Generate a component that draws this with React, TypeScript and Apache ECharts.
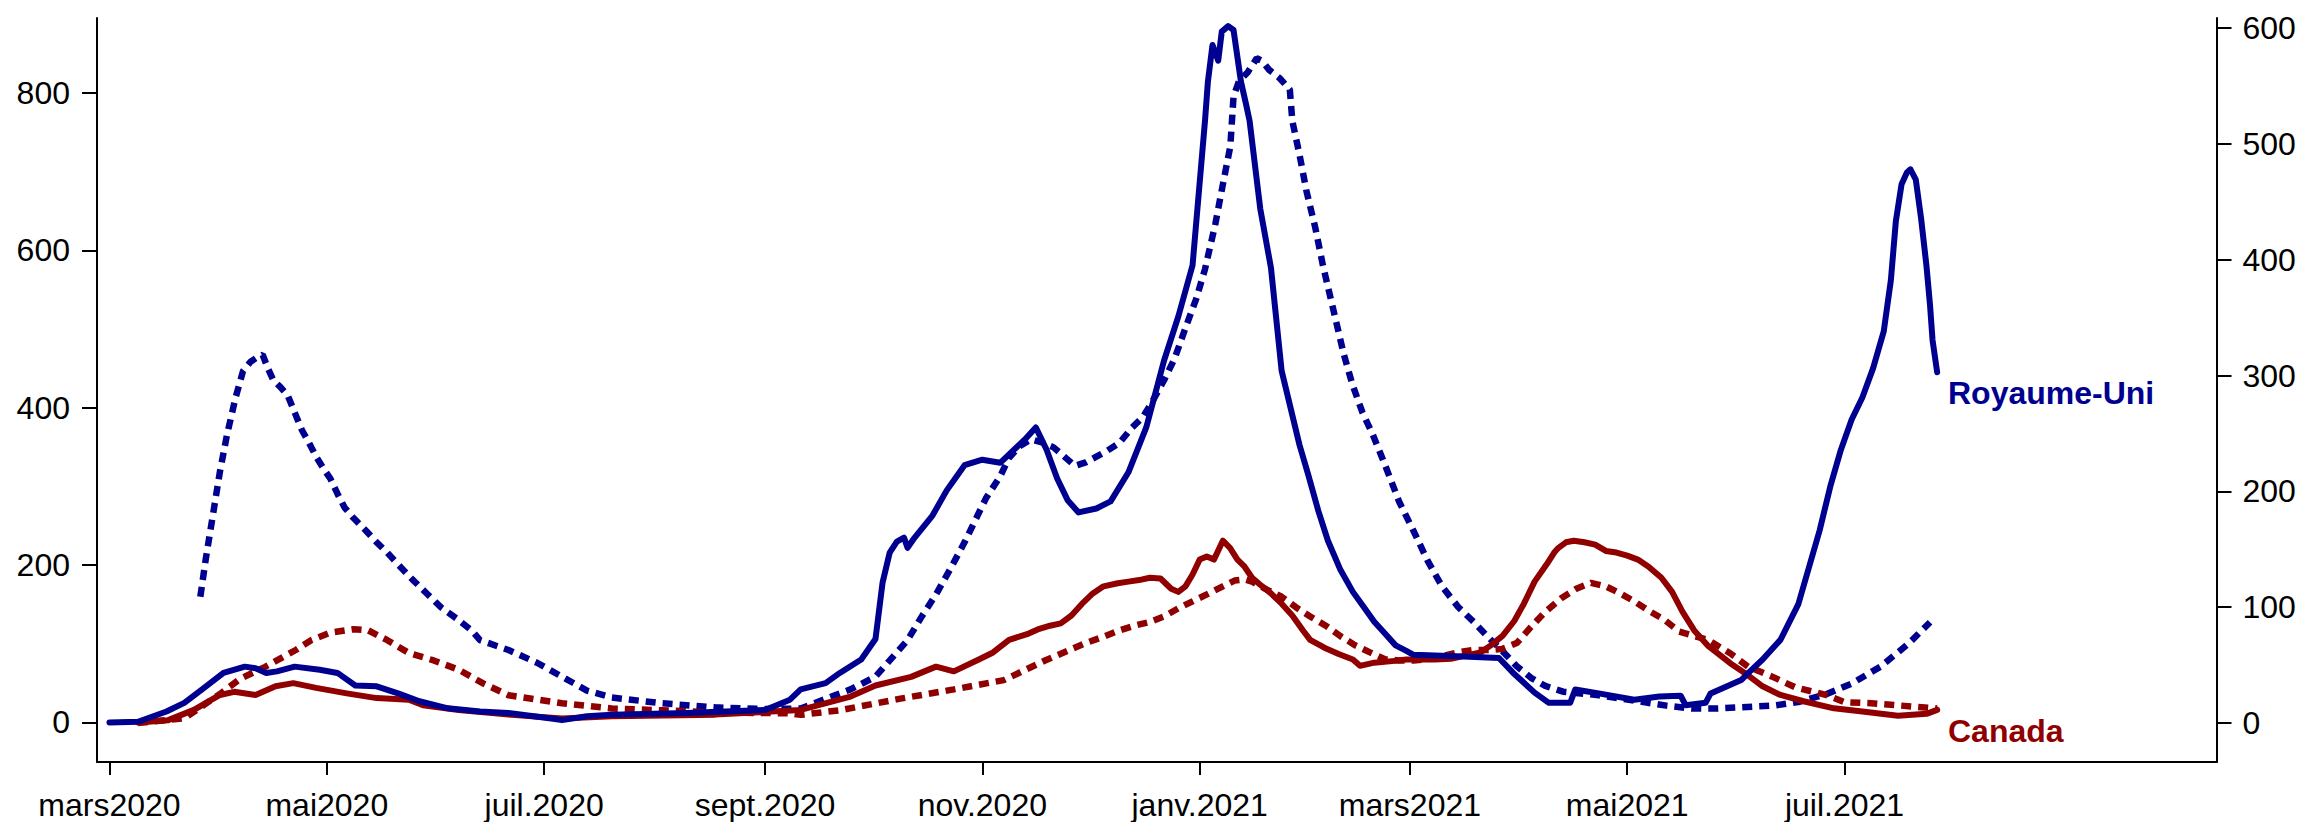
import { useEffect, useRef } from 'react';
import * as echarts from 'echarts';

// x values are days counted from 1 March 2020
const START = '2020-03-01';

const tickDates = [
  '2020-03-01', '2020-05-01', '2020-07-01', '2020-09-01', '2020-11-01',
  '2021-01-01', '2021-03-01', '2021-05-01', '2021-07-01',
];
const tickLabels = [
  'mars2020', 'mai2020', 'juil.2020', 'sept.2020', 'nov.2020',
  'janv.2021', 'mars2021', 'mai2021', 'juil.2021',
];
const leftTicks = [0, 200, 400, 600, 800];
const rightTicks = [0, 100, 200, 300, 400, 500, 600];

// Royaume-Uni, solid line, left scale
const ukCases: [number, number][] = [
  [0, 0], [8, 1], [16, 14], [21, 25], [26, 42], [32, 63], [38, 71], [41, 69], [44, 63], [47, 65],
  [52, 71], [59, 67], [64, 63], [69, 47], [75, 46], [81, 37], [87, 27], [95, 18], [104, 14], [112, 12],
  [124, 5], [127, 3], [134, 8], [141, 10], [162, 12], [184, 16], [191, 29], [194, 42], [201, 50], [205, 63],
  [211, 80], [215, 106], [217, 178], [219, 216], [221, 230], [223, 235], [224, 222], [226, 235], [231, 263], [235, 295],
  [240, 327], [245, 334], [250, 330], [257, 360], [260, 375], [263, 347], [266, 310], [269, 282], [272, 267], [277, 272],
  [281, 281], [286, 318], [291, 375], [296, 460], [300, 516], [304, 581], [307.5, 765], [308.3, 814], [309.6, 861], [311.2, 841],
  [312.2, 878], [314, 885], [315.5, 880], [317.6, 814], [319, 786], [320, 765], [323, 653], [326, 578], [329, 447], [331.5, 400],
  [334, 353], [336.4, 316], [339.3, 269], [342, 231], [345.5, 194], [349, 166], [352, 147], [355, 128], [358, 113], [361, 98],
  [364, 91], [366, 86], [380, 84], [390, 82], [394, 63], [400, 38], [404, 25], [410, 25], [411.4, 42], [418, 37],
  [428, 29], [435, 33], [441, 34], [442.4, 22], [448, 25], [449.4, 37], [458, 54], [460, 63], [464, 80], [469, 105],
  [474, 150], [477, 197], [480, 244], [483, 300], [486, 347], [489, 385], [492, 413], [495, 450], [498, 497], [500, 562],
  [501.4, 637], [503, 684], [504.5, 699], [505.5, 703], [507, 690], [508.5, 640], [510, 580], [511, 530], [511.7, 486], [513, 445],
];

// Royaume-Uni, dotted line, right scale
const ukHosp: [number, number][] = [
  [25.5, 109], [27, 141], [29, 179], [31, 217], [33, 249], [35.4, 281], [37.5, 304], [39.6, 312], [41.6, 316], [43, 318],
  [44.5, 306], [46, 296], [48, 290], [50, 283], [52, 268], [54, 253], [56, 242], [58, 230], [60, 220], [62, 211],
  [64, 198], [66, 186], [68.5, 177], [72, 166], [75, 156], [78, 147], [81, 137], [85, 124], [89, 112], [93, 100],
  [97.5, 90], [101.6, 80], [104, 71.5], [112, 63], [120, 52], [127, 40], [134, 28], [141, 22], [155, 17], [170, 13.5],
  [184, 12], [194, 12.5], [208, 29], [215, 40], [224, 71.5], [228, 92], [232, 111], [236, 133], [240, 156], [243, 175],
  [246, 194], [250, 213], [252.5, 229], [255.4, 239], [258.7, 245], [262, 242], [265, 238], [268, 230], [271, 222], [274, 225],
  [277, 230], [280, 235], [283.5, 242], [287, 255], [290, 264], [292.6, 277], [296, 296], [299, 315], [302, 341], [305, 366],
  [307.5, 392], [310.4, 431], [312.5, 465], [314.6, 498], [315.5, 541], [317, 554], [319.5, 562], [322, 574], [323.4, 572], [325.5, 564],
  [328.4, 557], [331.3, 547], [332, 520], [334, 491], [336, 459], [338.5, 427], [340.6, 395], [343.5, 357], [346.4, 319], [348.8, 293],
  [351.7, 268], [354.6, 249], [358, 223], [362, 191], [366, 166], [370, 140], [374, 118], [378.6, 100], [383, 87], [387, 74],
  [391, 62], [395, 49], [399, 39], [403, 32], [408, 27], [418, 24], [437, 15], [444, 12.5], [451, 12.5], [467, 15],
  [474, 18], [482, 25], [489, 34], [497, 48.5], [505, 68.6], [511, 87],
];

// Canada, solid line, left scale
const caCases: [number, number][] = [
  [8, 0], [16.5, 3], [23.7, 16], [31, 35], [35, 39], [41, 35], [46.6, 46], [51.6, 50], [58, 44], [66.6, 37],
  [75, 31], [84, 29], [88, 22], [98, 16], [112, 10], [127, 5], [141, 8], [170, 10], [194, 16], [208, 33],
  [215, 47], [225, 58], [232, 71], [237, 65], [244, 80], [248, 89], [252.5, 105], [258, 113], [261, 119], [264, 123],
  [267, 126], [270, 136], [273, 151], [276, 164], [279, 173], [283, 177], [286, 179], [289, 181], [292, 184], [295, 183],
  [298, 170], [300, 166], [302, 173], [304, 188], [306, 207], [308, 211], [310, 207], [312.5, 231], [314.5, 222], [316.6, 207],
  [318.6, 198], [320.7, 184], [323, 175], [326, 164], [329, 151], [332, 136], [335, 117], [337, 105], [341, 95], [345, 87],
  [349, 80], [351, 72], [355, 76], [360, 78], [364, 80], [368, 80], [372, 80], [376.5, 81], [380.6, 85], [384.8, 89],
  [387.7, 98], [391, 110], [394.3, 129], [397, 151], [400, 179], [403.4, 201], [405.5, 216], [406.7, 222], [408.8, 229], [411, 231],
  [414, 229], [417, 226], [420, 218], [423, 216], [426, 212], [429, 207], [432, 198], [435.6, 184], [438.6, 166], [441.5, 141],
  [444.8, 117], [448.8, 97], [455, 75], [459, 63], [464, 46], [469, 35], [475.5, 27], [484, 18], [492, 14], [502, 8.6],
  [510, 11], [513, 16],
];

// Canada, dotted line, right scale
const caHosp: [number, number][] = [
  [8, 0], [21, 4], [31, 25], [36.6, 38], [43.7, 48.5], [52.3, 63], [56.6, 71.5], [62, 78], [68.5, 81], [72.6, 80],
  [78, 71.5], [84, 60.5], [91, 54], [98, 46], [105, 34], [112, 24], [127, 17], [141, 12.5], [155, 11], [170, 9],
  [191, 8.4], [194, 7], [205, 11], [222, 21], [237, 29], [251, 37], [262.6, 54], [274, 69], [279.4, 75], [283.5, 80],
  [287.6, 84], [291.8, 87], [296, 92], [300, 99], [304, 105], [308, 111], [312.5, 118], [315.8, 123], [318.6, 124], [320.7, 122],
  [325, 115], [329, 109], [333, 100], [337, 92], [341.4, 84], [345.5, 75], [349.7, 67], [353.8, 61], [358, 55], [362, 54],
  [366, 54], [370, 55], [374.4, 58], [378.6, 61], [382.7, 63], [387, 63], [391, 64], [395, 69], [399, 83], [403, 96],
  [407.6, 108], [411.7, 116], [415.8, 121], [420, 118], [424, 112], [428, 105], [432, 97], [436.5, 89], [440.6, 79], [448.8, 71.5],
  [455, 60], [460, 48.5], [466.7, 40], [473, 31], [482, 24], [487, 18], [494.5, 17], [507, 14], [513, 12.5],
];

const BLUE = '#000090';
const RED = '#900000';
const FONT = '"Liberation Sans", Arial, Helvetica, sans-serif';

const dayOf = (s: string) => Math.round((Date.parse(s) - Date.parse(START)) / 86400000);
const tickDays = tickDates.map(dayOf);

export default function App() {
  const ref = useRef<HTMLDivElement>(null);

  useEffect(() => {
    if (!ref.current) return;
    const chart = echarts.init(ref.current, null, { renderer: 'svg' });

    const axisLine = { show: true, onZero: false, lineStyle: { color: '#000', width: 2 } };
    const tickStyle = { color: '#000', width: 2 };

    const solid = (name: string, data: [number, number][], color: string, yAxisIndex: number) => ({
      name,
      type: 'line',
      yAxisIndex,
      data,
      showSymbol: false,
      symbol: 'none',
      smooth: false,
      lineStyle: { color, width: 6, join: 'round', cap: 'round' },
      itemStyle: { color },
      emphasis: { disabled: true },
    });
    const dotted = (name: string, data: [number, number][], color: string, yAxisIndex: number) => ({
      name,
      type: 'line',
      yAxisIndex,
      data,
      showSymbol: false,
      symbol: 'none',
      smooth: false,
      lineStyle: { color, width: 6.5, type: [10, 7], cap: 'butt' },
      itemStyle: { color },
      emphasis: { disabled: true },
    });

    chart.setOption({
      animation: false,
      backgroundColor: '#fff',
      grid: { left: 97, right: 93.5, top: 18, bottom: 60, containLabel: false },
      xAxis: {
        type: 'value',
        min: -3.5,
        max: 591.4,
        axisLine,
        splitLine: { show: false },
        axisTick: { show: true, customValues: tickDays, length: 13, lineStyle: tickStyle },
        axisLabel: {
          customValues: tickDays,
          formatter: (v: number) => tickLabels[tickDays.indexOf(Math.round(v))] ?? '',
          fontSize: 32,
          fontFamily: FONT,
          color: '#000',
          margin: 27,
        },
      },
      yAxis: [
        {
          type: 'value',
          position: 'left',
          min: -50.2,
          max: 895.3,
          axisLine,
          splitLine: { show: false },
          axisTick: { show: true, customValues: leftTicks, length: 15, lineStyle: tickStyle },
          axisLabel: { customValues: leftTicks, fontSize: 32, fontFamily: FONT, color: '#000', margin: 27 },
        },
        {
          type: 'value',
          position: 'right',
          min: -33.7,
          max: 608.8,
          axisLine,
          splitLine: { show: false },
          axisTick: { show: true, customValues: rightTicks, length: 15, lineStyle: tickStyle },
          axisLabel: { customValues: rightTicks, fontSize: 32, fontFamily: FONT, color: '#000', margin: 26 },
        },
      ],
      series: [
        dotted('Royaume-Uni (échelle de droite)', ukHosp, BLUE, 1),
        dotted('Canada (échelle de droite)', caHosp, RED, 1),
        solid('Canada', caCases, RED, 0),
        solid('Royaume-Uni', ukCases, BLUE, 0),
      ],
      graphic: [
        {
          type: 'text',
          x: 1948,
          y: 392.5,
          style: {
            text: 'Royaume-Uni',
            fill: BLUE,
            fontSize: 32,
            fontWeight: 'bold',
            fontFamily: FONT,
            verticalAlign: 'middle',
            align: 'left',
          },
        },
        {
          type: 'text',
          x: 1948,
          y: 731,
          style: {
            text: 'Canada',
            fill: RED,
            fontSize: 32,
            fontWeight: 'bold',
            fontFamily: FONT,
            verticalAlign: 'middle',
            align: 'left',
          },
        },
      ],
    });

    return () => chart.dispose();
  }, []);

  return (
    <div
      ref={ref}
      style={{ position: 'fixed', left: 0, top: 0, width: 2310, height: 822, background: '#fff' }}
    />
  );
}
